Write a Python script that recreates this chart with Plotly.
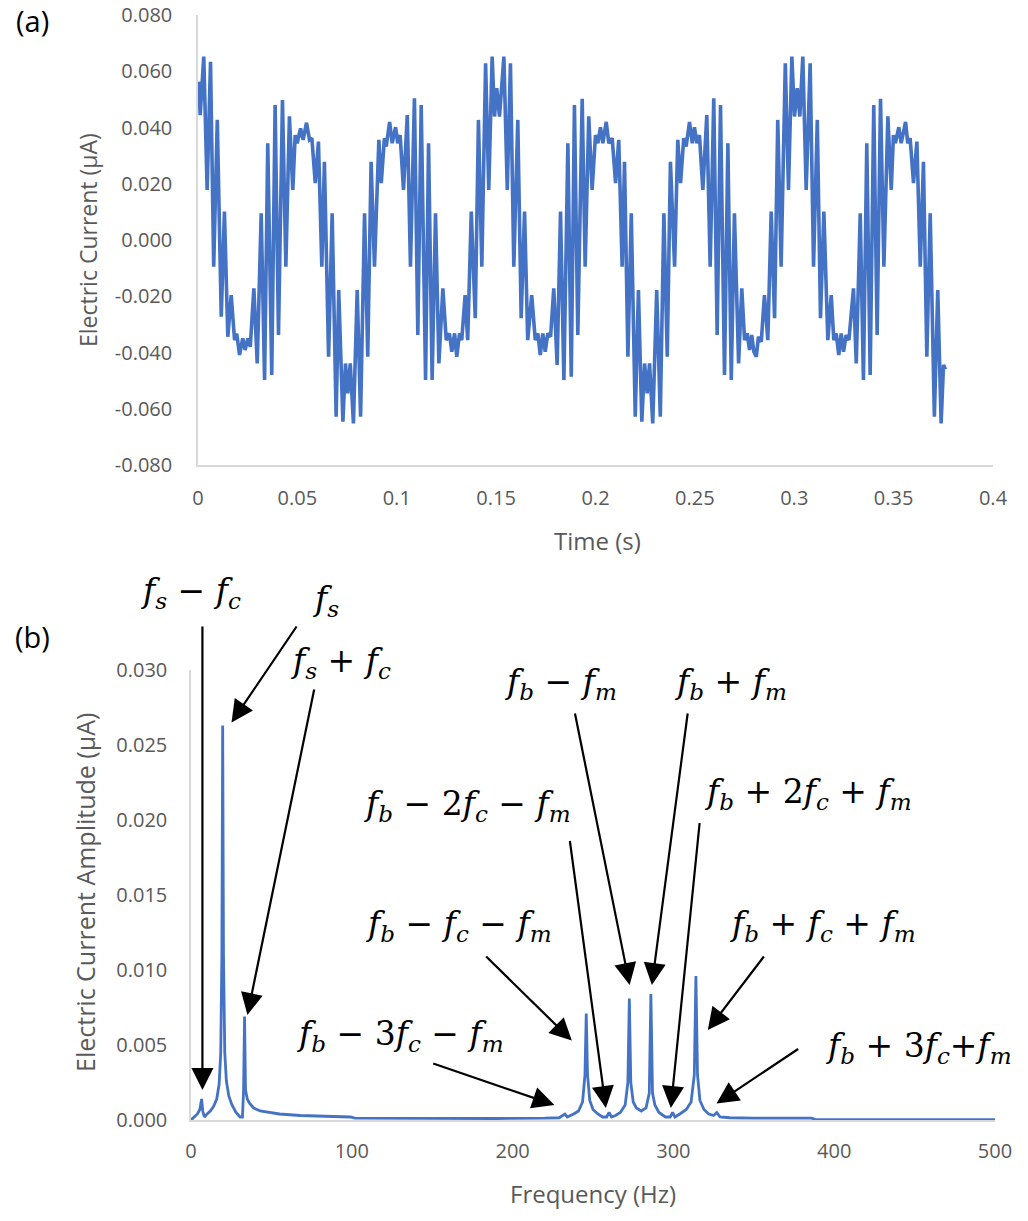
import plotly.graph_objects as go

# ---------------- Data: panel (a) time signal (vertices) -------------
time_s = [0.0003, 0.0011, 0.0029, 0.0046, 0.0063, 0.0079, 0.0097, 0.0117, 0.0133, 0.0150,
          0.0167, 0.0184, 0.0195, 0.0209, 0.0225, 0.0237, 0.0251, 0.0263, 0.0281, 0.0298,
          0.0318, 0.0335, 0.0351, 0.0371, 0.0388, 0.0405, 0.0425, 0.0442, 0.0460, 0.0477,
          0.0489, 0.0499, 0.0516, 0.0529, 0.0546, 0.0561, 0.0573, 0.0590, 0.0606, 0.0623,
          0.0636, 0.0657, 0.0675, 0.0695, 0.0708, 0.0729, 0.0742, 0.0754, 0.0766, 0.0782,
          0.0801, 0.0818, 0.0838, 0.0854, 0.0871, 0.0888, 0.0910, 0.0922, 0.0938, 0.0947,
          0.0964, 0.0977, 0.0994, 0.1005, 0.1017, 0.1034, 0.1053, 0.1069, 0.1089, 0.1106,
          0.1123, 0.1145, 0.1160, 0.1178, 0.1195, 0.1212, 0.1232, 0.1249, 0.1265, 0.1277,
          0.1291, 0.1302, 0.1316, 0.1327, 0.1344, 0.1357, 0.1375, 0.1395, 0.1411, 0.1428,
          0.1447, 0.1463, 0.1480, 0.1492, 0.1503, 0.1517, 0.1539, 0.1556, 0.1572, 0.1589,
          0.1609, 0.1626, 0.1643, 0.1659, 0.1679, 0.1697, 0.1710, 0.1722, 0.1735, 0.1747,
          0.1760, 0.1774, 0.1790, 0.1807, 0.1824, 0.1841, 0.1861, 0.1878, 0.1894, 0.1911,
          0.1933, 0.1948, 0.1966, 0.1983, 0.2000, 0.2012, 0.2025, 0.2037, 0.2054, 0.2067,
          0.2084, 0.2101, 0.2117, 0.2134, 0.2146, 0.2163, 0.2180, 0.2200, 0.2216, 0.2233,
          0.2247, 0.2260, 0.2272, 0.2288, 0.2308, 0.2326, 0.2344, 0.2361, 0.2377, 0.2398,
          0.2414, 0.2428, 0.2444, 0.2456, 0.2473, 0.2487, 0.2498, 0.2510, 0.2523, 0.2540,
          0.2560, 0.2577, 0.2595, 0.2612, 0.2629, 0.2649, 0.2666, 0.2683, 0.2699, 0.2720,
          0.2736, 0.2750, 0.2763, 0.2775, 0.2786, 0.2797, 0.2809, 0.2820, 0.2834, 0.2850,
          0.2867, 0.2884, 0.2901, 0.2917, 0.2934, 0.2955, 0.2971, 0.2988, 0.3001, 0.3015,
          0.3028, 0.3043, 0.3060, 0.3080, 0.3097, 0.3116, 0.3132, 0.3149, 0.3169, 0.3186,
          0.3199, 0.3211, 0.3224, 0.3236, 0.3248, 0.3261, 0.3275, 0.3298, 0.3312, 0.3332,
          0.3348, 0.3365, 0.3382, 0.3400, 0.3417, 0.3434, 0.3451, 0.3471, 0.3488, 0.3499,
          0.3509, 0.3526, 0.3538, 0.3560, 0.3571, 0.3583, 0.3600, 0.3617, 0.3634, 0.3650,
          0.3667, 0.3684, 0.3705, 0.3722, 0.3739, 0.3751, 0.3761]

current_ua = [0.0563, 0.0444, 0.0652, 0.0178, 0.0634, -0.0095, 0.0427, -0.0273, 0.0101, -0.0344,
              -0.0196, -0.0356, -0.0333, -0.0409, -0.0350, -0.0391, -0.0350, -0.0380, -0.0172, -0.0439,
              0.0095, -0.0498, 0.0344, -0.0480, 0.0480, -0.0338, 0.0498, -0.0095, 0.0440, 0.0178,
              0.0373, 0.0344, 0.0397, 0.0356, 0.0417, 0.0356, 0.0362, 0.0202, 0.0350, -0.0095,
              0.0278, -0.0415, 0.0095, -0.0628, -0.0178, -0.0646, -0.0439, -0.0545, -0.0439, -0.0652,
              -0.0178, -0.0628, 0.0095, -0.0415, 0.0278, -0.0095, 0.0356, 0.0202, 0.0362, 0.0332,
              0.0420, 0.0344, 0.0401, 0.0344, 0.0373, 0.0178, 0.0444, -0.0095, 0.0504, -0.0338,
              0.0480, -0.0498, 0.0344, -0.0498, 0.0095, -0.0439, -0.0172, -0.0356, -0.0332, -0.0397,
              -0.0332, -0.0415, -0.0332, -0.0356, -0.0196, -0.0356, 0.0101, -0.0278, 0.0427, -0.0095,
              0.0628, 0.0178, 0.0652, 0.0439, 0.0540, 0.0439, 0.0652, 0.0178, 0.0628, -0.0095,
              0.0427, -0.0278, 0.0101, -0.0356, -0.0196, -0.0356, -0.0332, -0.0409, -0.0332, -0.0397,
              -0.0332, -0.0344, -0.0172, -0.0444, 0.0101, -0.0498, 0.0344, -0.0486, 0.0480, -0.0338,
              0.0502, -0.0095, 0.0440, 0.0178, 0.0373, 0.0344, 0.0401, 0.0344, 0.0420, 0.0344,
              0.0362, 0.0202, 0.0356, -0.0095, 0.0278, -0.0415, 0.0095, -0.0628, -0.0178, -0.0646,
              -0.0439, -0.0545, -0.0439, -0.0652, -0.0178, -0.0628, 0.0095, -0.0415, 0.0278, -0.0095,
              0.0356, 0.0202, 0.0362, 0.0332, 0.0420, 0.0344, 0.0401, 0.0344, 0.0373, 0.0178,
              0.0444, -0.0095, 0.0504, -0.0338, 0.0480, -0.0480, 0.0344, -0.0498, 0.0095, -0.0439,
              -0.0172, -0.0356, -0.0332, -0.0391, -0.0338, -0.0397, -0.0415, -0.0344, -0.0362, -0.0196,
              -0.0356, 0.0101, -0.0278, 0.0427, -0.0095, 0.0628, 0.0178, 0.0652, 0.0439, 0.0540,
              0.0439, 0.0652, 0.0178, 0.0628, -0.0095, 0.0427, -0.0278, 0.0101, -0.0356, -0.0196,
              -0.0356, -0.0332, -0.0409, -0.0332, -0.0397, -0.0338, -0.0356, -0.0172, -0.0439, 0.0095,
              -0.0498, 0.0344, -0.0480, 0.0480, -0.0338, 0.0502, -0.0095, 0.0440, 0.0178, 0.0373,
              0.0344, 0.0401, 0.0344, 0.0420, 0.0344, 0.0362, 0.0202, 0.0350, -0.0095, 0.0278,
              -0.0415, 0.0095, -0.0628, -0.0178, -0.0652, -0.0444, -0.0460]

# ---------------- Data: panel (b) spectrum ----------------
freq_hz = [0, 2, 4, 5.5, 6.6, 7.3, 8.3, 10, 12, 14,
           16, 17.5, 18.5, 19.2, 19.7, 20.2, 21.0, 22.0, 23.5, 25.5,
           28, 30.5, 32.0, 32.7, 33.3, 33.9, 35, 36.5, 39, 43,
           48, 55, 68, 85, 99, 102, 130, 160, 190, 220,
           229, 232.5, 234, 238, 241, 243.5, 245.0, 245.8, 246.6, 248,
           250, 253, 256, 258.5, 260, 261.5, 264, 267, 270, 271.7,
           272.6, 273.5, 275, 277, 280, 283, 285.0, 286.0, 287.0, 288.5,
           291, 295, 298, 299.5, 301, 304, 308, 311, 313.0, 314.0,
           315.0, 316.5, 319, 322, 325, 327, 329, 335, 350, 386,
           388, 420, 460, 500]
amp_ua = [0.0000, 0.0002, 0.0004, 0.0007, 0.0014, 0.0006, 0.0002, 0.0004, 0.0006, 0.0009,
          0.0014, 0.0024, 0.0045, 0.0110, 0.0263, 0.0110, 0.0045, 0.0026, 0.0016, 0.0010,
          0.0005, 0.0002, 0.0002, 0.0020, 0.0069, 0.0020, 0.0014, 0.0011, 0.0008, 0.0006,
          0.0005, 0.0004, 0.0003, 0.00025, 0.0002, 0.00012, 0.0001, 0.0001, 0.0001, 0.00012,
          0.00015, 0.0004, 0.0002, 0.0004, 0.0006, 0.0012, 0.0030, 0.0071, 0.0030, 0.0013,
          0.0007, 0.0004, 0.0002, 0.0002, 0.0005, 0.0002, 0.0003, 0.0005, 0.0010, 0.0025,
          0.0081, 0.0025, 0.0012, 0.0008, 0.0006, 0.0008, 0.0018, 0.0084, 0.0018, 0.0010,
          0.0005, 0.0002, 0.0002, 0.0005, 0.0002, 0.0004, 0.0007, 0.0012, 0.0030, 0.0096,
          0.0030, 0.0013, 0.0007, 0.0004, 0.0003, 0.0005, 0.0002, 0.00015, 0.00012, 0.00012,
          0.00004, 0.00003, 0.00003, 0.00003]

# ---------------- Tick labels ----------------
time_ticks = [0, 0.05, 0.1, 0.15, 0.2, 0.25, 0.3, 0.35, 0.4]
time_tick_text = ["0", "0.05", "0.1", "0.15", "0.2", "0.25", "0.3", "0.35", "0.4"]
cur_ticks = [-0.08, -0.06, -0.04, -0.02, 0.0, 0.02, 0.04, 0.06, 0.08]
cur_tick_text = ["-0.080", "-0.060", "-0.040", "-0.020", "0.000", "0.020", "0.040", "0.060", "0.080"]
freq_ticks = [0, 100, 200, 300, 400, 500]
freq_tick_text = ["0", "100", "200", "300", "400", "500"]
amp_ticks = [0, 0.005, 0.01, 0.015, 0.02, 0.025, 0.03]
amp_tick_text = ["0.000", "0.005", "0.010", "0.015", "0.020", "0.025", "0.030"]

# ---------------- Annotation texts of panel (b) ----------------
def f(sub):
    return "<i>f</i><sub><i>%s</i></sub>" % sub

label_texts = [
    f("s") + " − " + f("c"),
    f("s"),
    f("s") + " + " + f("c"),
    f("b") + " − " + f("m"),
    f("b") + " + " + f("m"),
    f("b") + " − 2" + f("c") + " − " + f("m"),
    f("b") + " + 2" + f("c") + " + " + f("m"),
    f("b") + " − " + f("c") + " − " + f("m"),
    f("b") + " + " + f("c") + " + " + f("m"),
    f("b") + " − 3" + f("c") + " − " + f("m"),
    f("b") + " + 3" + f("c") + "+" + f("m"),
]
# label centres in page pixels (x, y)
label_pos = [(190, 592), (325, 600), (340, 662), (560, 683), (730, 683), (467, 805),
             (808, 793), (458, 925), (822, 925), (400, 1035), (918, 1047)]
# arrows: tail (Hz, µA) -> tip (Hz, µA)
arrows = [
    (7.1, 0.0330, 7.1, 0.0020),
    (66.3, 0.0330, 25.2, 0.0265),
    (76.8, 0.0288, 35.1, 0.0070),
    (238.6, 0.0272, 272.8, 0.0090),
    (309.0, 0.0272, 286.6, 0.0090),
    (235.5, 0.0187, 258.0, 0.0008),
    (316.4, 0.0199, 298.4, 0.0008),
    (182.6, 0.0110, 236.8, 0.0053),
    (357.0, 0.0110, 321.4, 0.0060),
    (149.7, 0.0038, 226.0, 0.0010),
    (378.5, 0.0048, 326.8, 0.0011),
]

W, H = 1028, 1221
GRAY = "#595959"
AXC = "#D9D9D9"
BLUE = "#4472C4"
SANS = "Open Sans, Lato, sans-serif"
TICKFONT = dict(family=SANS, size=20, color=GRAY)
XTITLEFONT = dict(family=SANS, size=24, color=GRAY)
MATHFONT = dict(family="DejaVu Serif, Liberation Serif, serif", size=33, color="black")

fig = go.Figure()
fig.add_trace(go.Scatter(x=time_s, y=current_ua, mode="lines",
                         line=dict(color=BLUE, width=3.6), xaxis="x", yaxis="y",
                         hoverinfo="skip"))
fig.add_trace(go.Scatter(x=freq_hz, y=amp_ua, mode="lines",
                         line=dict(color=BLUE, width=2.8), xaxis="x2", yaxis="y2",
                         hoverinfo="skip"))

common = dict(showgrid=False, zeroline=False, showline=True, linecolor=AXC, linewidth=1.5,
              ticks="outside", tickcolor="rgba(0,0,0,0)", tickfont=TICKFONT, automargin=False)

fig.update_layout(
    width=W, height=H, margin=dict(l=0, r=0, t=0, b=0, pad=0, autoexpand=False),
    paper_bgcolor="white", plot_bgcolor="white", showlegend=False,
    xaxis=dict(domain=[198 / W, 993 / W], range=[0, 0.4], tickvals=time_ticks,
               ticktext=time_tick_text, anchor="y", ticklen=14, **common),
    yaxis=dict(domain=[1 - 465 / H, 1 - 15 / H], range=[-0.08, 0.08], tickvals=cur_ticks,
               ticktext=cur_tick_text, anchor="x", ticklen=20, **common),
    xaxis2=dict(domain=[191 / W, 995 / W], range=[0, 500], tickvals=freq_ticks,
                ticktext=freq_tick_text, anchor="y2", ticklen=12, **common),
    yaxis2=dict(domain=[1 - 1120 / H, 1 - 670 / H], range=[0, 0.030], tickvals=amp_ticks,
                ticktext=amp_tick_text, anchor="x2", ticklen=18, **common),
)

ann = []
ann.append(dict(text="(a)", x=32 / W, y=1 - 20 / H, xref="paper", yref="paper",
                xanchor="center", yanchor="middle",
                showarrow=False, font=dict(family=SANS, size=29, color="black")))
ann.append(dict(text="(b)", x=32 / W, y=1 - 636 / H, xref="paper", yref="paper",
                xanchor="center", yanchor="middle",
                showarrow=False, font=dict(family=SANS, size=29, color="black")))
ann.append(dict(text="Time (s)", x=597 / W, y=1 - 540 / H, xref="paper", yref="paper",
                xanchor="center", yanchor="middle", showarrow=False, font=XTITLEFONT))
ann.append(dict(text="Frequency (Hz)", x=593 / W, y=1 - 1193 / H, xref="paper", yref="paper",
                xanchor="center", yanchor="middle", showarrow=False, font=XTITLEFONT))
ann.append(dict(text="Electric Current (µA)", x=88 / W, y=1 - 240 / H, xref="paper", yref="paper",
                xanchor="center", yanchor="middle", showarrow=False, textangle=-90,
                font=dict(family=SANS, size=23, color=GRAY)))
ann.append(dict(text="Electric Current Amplitude (µA)", x=85 / W, y=1 - 893 / H, xref="paper",
                yref="paper", xanchor="center", yanchor="middle", showarrow=False, textangle=-90,
                font=dict(family=SANS, size=25, color=GRAY)))

for txt, (px, py) in zip(label_texts, label_pos):
    ann.append(dict(text=txt, x=px / W, y=1 - py / H, xref="paper", yref="paper",
                    xanchor="center", yanchor="middle", showarrow=False, font=MATHFONT))
for tx, ty, hx, hy in arrows:
    ann.append(dict(text="", x=hx, y=hy, xref="x2", yref="y2", ax=tx, ay=ty, axref="x2", ayref="y2",
                    showarrow=True, arrowhead=2, arrowsize=2.0, arrowwidth=2.2, arrowcolor="black"))

fig.update_layout(annotations=ann)
fig.write_html("out.html",
               post_script="document.body.style.margin='0';document.body.style.overflow='hidden';")
